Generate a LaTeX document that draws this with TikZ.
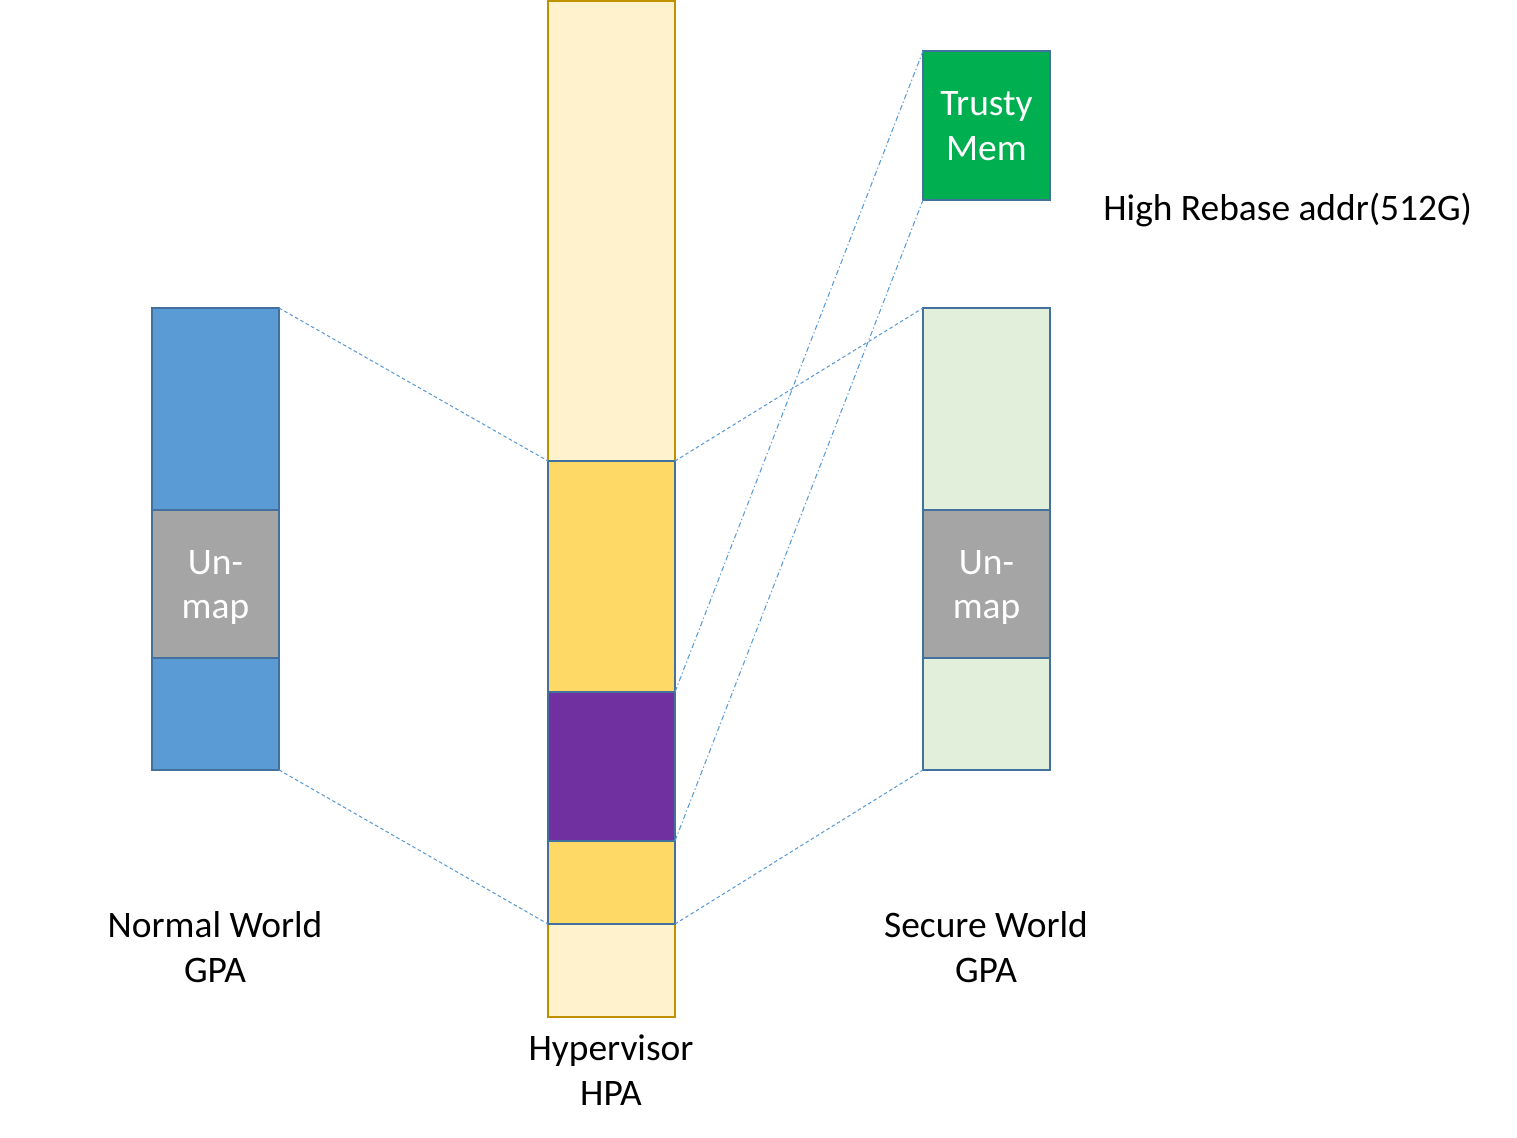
\documentclass[tikz,border=0pt]{standalone}
\usepackage{fontspec}
\setmainfont{Carlito}
\definecolor{bord}{HTML}{41719C}
\definecolor{gold}{HTML}{BF9000}
\definecolor{paleyel}{HTML}{FFF2CC}
\definecolor{yel}{HTML}{FFD966}
\definecolor{purp}{HTML}{7030A0}
\definecolor{nblue}{HTML}{5B9BD5}
\definecolor{ugray}{HTML}{A5A5A5}
\definecolor{pgreen}{HTML}{E2EFDA}
\definecolor{tgreen}{HTML}{00B050}
\newcommand{\topup}{\rule{0pt}{22pt}}
\tikzset{
  blk/.style={draw=bord, line width=1.2pt, inner sep=0, outer sep=0, anchor=north west,
    minimum width=2.54cm, text=white, align=center, font=\fontsize{21.3}{25.5}\selectfont},
  lbl/.style={align=center, font=\fontsize{21.3}{25.5}\selectfont},
  map/.style={draw=nblue, line width=0.6pt, dash pattern=on 2pt off 1.5pt},
  tmap/.style={draw=nblue, line width=0.6pt, dash pattern=on 3pt off 1.5pt on 0.7pt off 1.5pt}
}

\begin{document}
\begin{tikzpicture}[x=0.02cm, y=-0.02cm]
    \useasboundingbox (0,0) rectangle (1517,1138);
    % hypervisor HPA
    \node[blk, draw=gold, fill=paleyel, minimum height=9.2cm] (hpa1) at (548,1) {};
    \node[blk, draw=gold, fill=paleyel, minimum height=1.86cm] (hpa5) at (548,924) {};
    \node[blk, fill=yel, minimum height=4.62cm] (hpa2) at (548,461) {};
    \node[blk, fill=purp, minimum height=2.98cm] (hpa3) at (548,692) {};
    \node[blk, fill=yel, minimum height=1.66cm] (hpa4) at (548,841) {};
    % normal world GPA
    \node[blk, fill=nblue, minimum height=4.04cm] (nw1) at (152,308) {};
    \node[blk, fill=ugray, minimum height=2.96cm] (nw2) at (152,510) {\topup Un-\\map\strut};
    \node[blk, fill=nblue, minimum height=2.24cm] (nw3) at (152,658) {};
    % secure world GPA
    \node[blk, fill=pgreen, minimum height=4.04cm] (sw1) at (923,308) {};
    \node[blk, fill=ugray, minimum height=2.96cm] (sw2) at (923,510) {\topup Un-\\map\strut};
    \node[blk, fill=pgreen, minimum height=2.24cm] (sw3) at (923,658) {};
    \node[blk, fill=tgreen, minimum height=2.98cm] (trusty) at (923,51) {\topup Trusty\\Mem\strut};
    % mappings
    \draw[map] (nw1.north east) -- (hpa2.north west);
    \draw[map] (nw3.south east) -- (hpa4.south west);
    \draw[map] (hpa2.north east) -- (sw1.north west);
    \draw[map] (hpa4.south east) -- (sw3.south west);
    \draw[tmap] (hpa3.north east) -- (trusty.north west);
    \draw[tmap] (hpa3.south east) -- (trusty.south west);
    % labels
    \node[lbl] (nwl) at (215,947) {Normal World\\GPA};
    \node[lbl] (hpal) at (611,1070) {Hypervisor\\HPA};
    \node[lbl] (swl) at (986,947) {Secure World\\GPA};
    \node[lbl, anchor=west, inner sep=0] (rebase) at (1103,210) {High Rebase addr(512G)};
\end{tikzpicture}
\end{document}
